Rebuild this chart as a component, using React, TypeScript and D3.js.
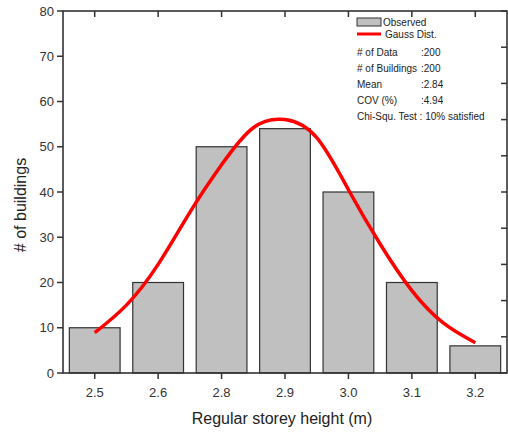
import React from "react";
import * as d3 from "d3";

const categories = ["2.5", "2.6", "2.8", "2.9", "3.0", "3.1", "3.2"];
const observed = [10, 20, 50, 54, 40, 20, 6];
// Gauss curve points (position in category units, count)
const curvePos = [0, 0.5, 1, 1.5, 2, 2.5, 3, 3.5, 4, 4.5, 5, 5.5, 6];
const curveVal = [8.9, 15, 24, 35.5, 46, 54.2, 56, 52, 40.5, 28.5, 18.2, 11, 6.7];
const yTicks = [0, 10, 20, 30, 40, 50, 60, 70, 80];
const rightTicks = [0, 1, 2, 3, 4, 5, 6, 7, 8, 9, 10];
const legendRows = [
  ["# of Data", ":200"],
  ["# of Buildings", ":200"],
  ["Mean", ":2.84"],
  ["COV (%)", ":4.94"],
];
const chiText = "Chi-Squ. Test : 10% satisfied";

export default function App() {
  const W = 508, H = 432;
  const left = 63, right = 507, top = 11, bottom = 373;
  const x = d3.scaleBand<string>().domain(categories).range([left, right]).paddingInner(0.2).paddingOuter(0.1).align(0);
  const step = x.step();
  const center = (i: number) => left + step * 0.5 + i * step;
  const xc = d3.scaleLinear().domain([0, 1]).range([center(0), center(1)]);
  const y = d3.scaleLinear().domain([0, 80]).range([bottom, top]);
  const yr = d3.scaleLinear().domain([0, 10]).range([bottom, top]);
  const line = d3
    .line<number>()
    .x((_, i) => xc(curvePos[i]))
    .y((d) => y(d))
    .curve(d3.curveNatural);
  const bw = step * 0.8;
  const font = "'Liberation Sans', Arial, sans-serif";
  const axisColor = "#333";
  return (
    <svg width={W} height={H} style={{ position: "absolute", left: 0, top: 0 }} fontFamily={font}>
      <rect x={0} y={0} width={W} height={H} fill="#fff" />
      {observed.map((v, i) => (
        <rect
          key={i}
          x={center(i) - bw / 2}
          y={y(v)}
          width={bw}
          height={y(0) - y(v)}
          fill="#c0c0c0"
          stroke="#333"
          strokeWidth={1.2}
        />
      ))}
      <path d={line(curveVal) || ""} fill="none" stroke="#f00" strokeWidth={3.5} />
      <rect x={left} y={top} width={right - left} height={bottom - top} fill="none" stroke={axisColor} strokeWidth={1.6} />
      {yTicks.map((t) => (
        <g key={t}>
          <line x1={left - 6} x2={left} y1={y(t)} y2={y(t)} stroke={axisColor} strokeWidth={1.5} />
          <text x={left - 9} y={y(t) + 4.5} textAnchor="end" fontSize={13} fill="#333">
            {t}
          </text>
        </g>
      ))}
      {rightTicks.map((t) => (
        <line key={t} x1={right - 6} x2={right} y1={yr(t)} y2={yr(t)} stroke={axisColor} strokeWidth={1.5} />
      ))}
      {categories.map((c, i) => (
        <g key={c}>
          <line x1={center(i)} x2={center(i)} y1={bottom} y2={bottom + 6} stroke={axisColor} strokeWidth={1.5} />
          <line x1={center(i)} x2={center(i)} y1={top} y2={top + 6} stroke={axisColor} strokeWidth={1.5} />
          <text x={center(i)} y={bottom + 24} textAnchor="middle" fontSize={13} fill="#333">
            {c}
          </text>
        </g>
      ))}
      <text x={(left + right) / 2 - 3} y={424} textAnchor="middle" fontSize={16} fill="#222">
        Regular storey height (m)
      </text>
      <text transform={`translate(26,${(top + bottom) / 2 + 13}) rotate(-90)`} textAnchor="middle" fontSize={16} fill="#222">
        # of buildings
      </text>
      <rect x={357} y={18} width={24} height={8} fill="#c0c0c0" stroke="#333" strokeWidth={1} />
      <text x={383} y={25.5} fontSize={10} fill="#222">Observed</text>
      <line x1={357} x2={381} y1={34} y2={34} stroke="#f00" strokeWidth={3} />
      <text x={385} y={38} fontSize={10} fill="#222">Gauss Dist.</text>
      {legendRows.map((r, i) => (
        <g key={r[0]}>
          <text x={357} y={55.5 + i * 16} fontSize={10} fill="#222">{r[0]}</text>
          <text x={421} y={55.5 + i * 16} fontSize={10} fill="#222">{r[1]}</text>
        </g>
      ))}
      <text x={357} y={119.5} fontSize={10} fill="#222">{chiText}</text>
    </svg>
  );
}
